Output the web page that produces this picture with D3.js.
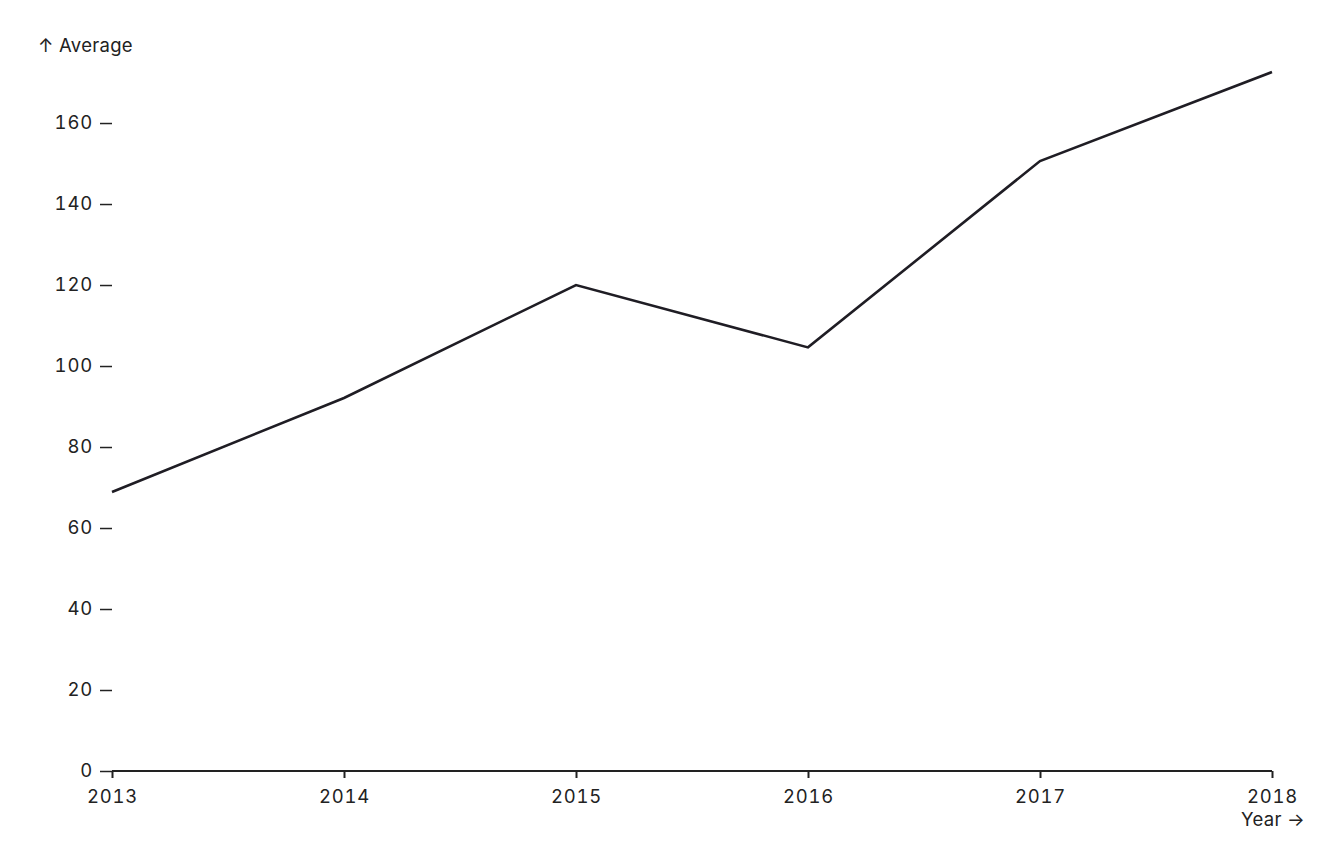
<!DOCTYPE html>
<html>
<head>
  <meta charset="utf-8">
  <title>Average by year</title>
  <script src="https://cdn.jsdelivr.net/npm/d3@7"></script>
  <style>
    body { margin: 0; background: #fff; }
    svg { display: block; }
    .axis text { fill: #222; font-variant-numeric: tabular-nums; }
    .axis .tick text { letter-spacing: 0.8px; }
  </style>
</head>
<body>
<svg id="chart" width="1344" height="864"></svg>
<script>
  // data
  const years = [2013, 2014, 2015, 2016, 2017, 2018];
  const averages = [68.9, 92.1, 120.0, 104.6, 150.6, 172.6];
  const yTicks = [0, 20, 40, 60, 80, 100, 120, 140, 160];

  const data = years.map((y, i) => ({ year: y, value: averages[i] }));

  const margin = { left: 112, right: 72, top: 72, bottom: 93 };
  const width = 1344, height = 864;
  const font = 'Inter, "Noto Sans", sans-serif';
  const fontSize = 18.5;

  const svg = d3.select('#chart');

  const x = d3.scaleLinear()
    .domain(d3.extent(years))
    .range([margin.left, width - margin.right]);

  const y = d3.scaleLinear()
    .domain([0, d3.max(averages)])
    .range([height - margin.bottom, margin.top]);

  // y axis: ticks only, no domain line
  const gy = svg.append('g')
    .attr('class', 'axis')
    .attr('transform', `translate(${margin.left},0)`)
    .call(d3.axisLeft(y).tickValues(yTicks).tickSize(12).tickPadding(7).tickFormat(d3.format('d')))
    .attr('font-size', fontSize)
    .attr('font-family', font);
  gy.select('.domain').remove();
  gy.selectAll('line').attr('stroke', '#222').attr('stroke-width', 1.5);

  gy.append('text')
    .attr('x', -74)
    .attr('y', 52)
    .attr('text-anchor', 'start')
    .attr('fill', '#222')
    .attr('letter-spacing', 0.3)
    .text('↑ Average');

  // x axis
  const gx = svg.append('g')
    .attr('class', 'axis')
    .attr('transform', `translate(0,${height - margin.bottom})`)
    .call(d3.axisBottom(x).tickValues(years).tickSize(7).tickPadding(12).tickFormat(d3.format('d')))
    .attr('font-size', fontSize)
    .attr('font-family', font);
  gx.select('.domain').attr('stroke', '#222').attr('stroke-width', 2)
    .attr('d', `M${margin.left},0H${width - margin.right}`);
  gx.selectAll('line').attr('stroke', '#222').attr('stroke-width', 2);

  gx.append('text')
    .attr('x', width - 39)
    .attr('y', 55)
    .attr('text-anchor', 'end')
    .attr('fill', '#222')
    .attr('letter-spacing', 0.3)
    .text('Year →');

  // line
  const line = d3.line()
    .x(d => x(d.year))
    .y(d => y(d.value));

  svg.append('path')
    .datum(data)
    .attr('d', line)
    .attr('fill', 'none')
    .attr('stroke', '#1f1d24')
    .attr('stroke-width', 2.6)
    .attr('stroke-linejoin', 'miter');
</script>
</body>
</html>
